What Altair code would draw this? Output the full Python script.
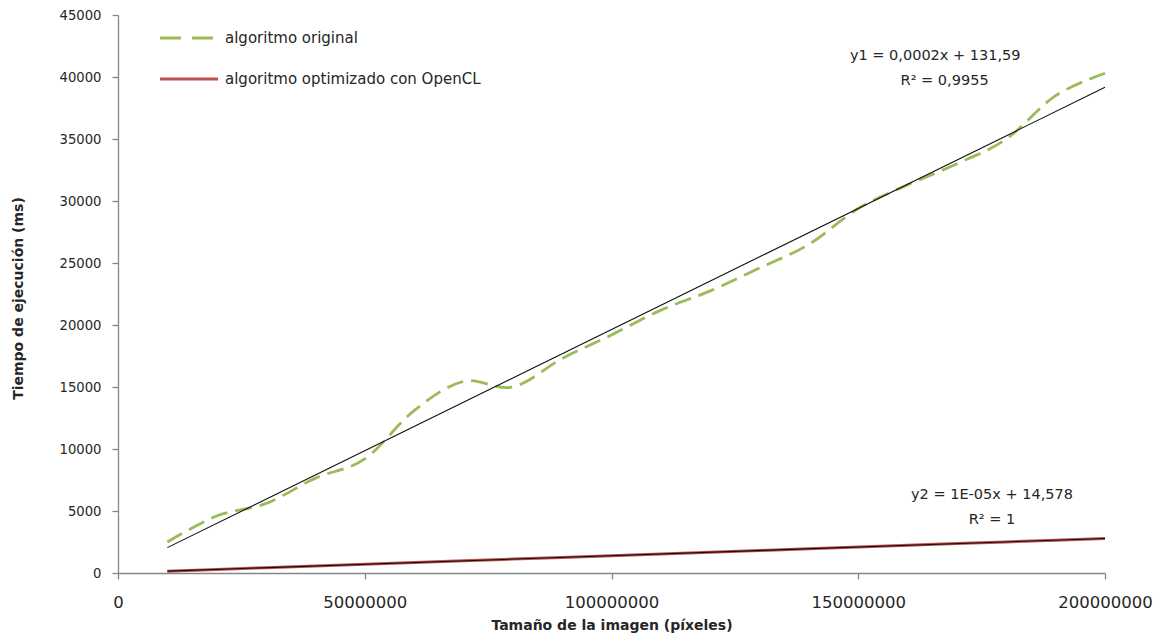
import altair as alt
import pandas as pd

# ---- data ----
sizes = [10000000, 20000000, 30000000, 40000000, 50000000, 60000000, 70000000,
         80000000, 90000000, 100000000, 110000000, 120000000, 130000000,
         140000000, 150000000, 160000000, 170000000, 180000000, 190000000,
         200000000]
original = [2500, 4600, 5600, 7650, 9200, 13100, 15450, 15000, 17300, 19200,
            21200, 22750, 24600, 26500, 29400, 31300, 33000, 35000, 38500, 40300]
opencl = [150, 290, 430, 570, 710, 845, 985, 1120, 1260, 1400, 1540, 1680,
          1815, 1955, 2090, 2230, 2370, 2510, 2645, 2785]

series_names = ["algoritmo original", "algoritmo optimizado con OpenCL"]
series_colors = ["#9BBB59", "#C0504D"]

ann_text = ["y1 = 0,0002x + 131,59", "R² = 0,9955", "y2 = 1E-05x + 14,578", "R² = 1"]
ann_x = [165600000, 167500000, 177100000, 177100000]
ann_y = [41700, 39650, 6270, 4260]

x_ticks = [0, 50000000, 100000000, 150000000, 200000000]
y_ticks = list(range(0, 45001, 5000))

df = pd.DataFrame({"size": sizes, "original": original, "opencl": opencl})
ann = pd.DataFrame({"text": ann_text, "x": ann_x, "y": ann_y})
one = pd.DataFrame({"k": [0]})

FONT = "DejaVu Sans"
TXT = "#262626"

xscale = alt.Scale(domain=[0, 200000000], nice=False)
yscale = alt.Scale(domain=[0, 45000], nice=False)

xaxis = alt.Axis(values=x_ticks, format="d", title="Tamaño de la imagen (píxeles)",
                 labelFont=FONT, labelFontSize=16.5, labelColor=TXT, labelPadding=15,
                 tickSize=6, titleFont=FONT, titleFontSize=14, titleFontWeight="bold",
                 titleColor=TXT, titleY=52, titleBaseline="middle", labelFlush=False)
yaxis = alt.Axis(values=y_ticks, format="d", title="Tiempo de ejecución (ms)",
                 labelFont=FONT, labelFontSize=13.2, labelColor=TXT, labelPadding=11,
                 tickSize=6, titleFont=FONT, titleFontSize=14, titleFontWeight="bold",
                 titleColor=TXT, titleX=-100, titleY=283, titleAngle=270,
                 titleBaseline="middle", titleAlign="center")

base = alt.Chart(df)

green = base.mark_line(interpolate="cardinal", color=series_colors[0],
                       strokeWidth=2.8, strokeDash=[17, 8]).encode(
    x=alt.X("size:Q", scale=xscale, axis=xaxis),
    y=alt.Y("original:Q", scale=yscale, axis=yaxis),
)

red = base.mark_line(color=series_colors[1], strokeWidth=3).encode(
    x=alt.X("size:Q", scale=xscale),
    y=alt.Y("opencl:Q", scale=yscale),
)

trend1 = base.transform_regression("size", "original", extent=[10000000, 200000000]).mark_line(
    color="#111111", strokeWidth=1.1).encode(
    x=alt.X("size:Q", scale=xscale), y=alt.Y("original:Q", scale=yscale))

trend2 = base.transform_regression("size", "opencl", extent=[10000000, 200000000]).mark_line(
    color="#111111", strokeWidth=1.1).encode(
    x=alt.X("size:Q", scale=xscale), y=alt.Y("opencl:Q", scale=yscale))

annotations = alt.Chart(ann).mark_text(font=FONT, fontSize=14.5, color=TXT,
                                       align="center", baseline="middle").encode(
    x=alt.X("x:Q", scale=xscale), y=alt.Y("y:Q", scale=yscale), text="text:N")

# legend (manual, top-left inside plot), one mark each
leg_green_line = alt.Chart(one).mark_rule(color=series_colors[0], strokeWidth=2.8,
                                          strokeDash=[21, 11]).encode(
    x=alt.value(42), x2=alt.value(100), y=alt.value(23))
leg_red_line = alt.Chart(one).mark_rule(color=series_colors[1], strokeWidth=2.8).encode(
    x=alt.value(42), x2=alt.value(100), y=alt.value(64))
leg_green_text = alt.Chart(one).mark_text(font=FONT, fontSize=15, color=TXT, align="left",
                                          baseline="middle", text=series_names[0]).encode(
    x=alt.value(107), y=alt.value(23))
leg_red_text = alt.Chart(one).mark_text(font=FONT, fontSize=15, color=TXT, align="left",
                                        baseline="middle", text=series_names[1]).encode(
    x=alt.value(107), y=alt.value(64))

chart = alt.layer(green, red, trend1, trend2, annotations,
                  leg_green_line, leg_red_line, leg_green_text, leg_red_text).properties(
    width=987, height=558,
    padding={"left": 110, "top": 7, "right": 48, "bottom": 62},
    autosize=alt.AutoSizeParams(type="none"),
    background="white",
).configure_view(stroke=None).configure_axis(
    grid=False, domainColor="#868686", tickColor="#868686", domainWidth=1.3, tickWidth=1.3
)

chart.save("out.html", embed_options={"renderer": "svg", "actions": False})
